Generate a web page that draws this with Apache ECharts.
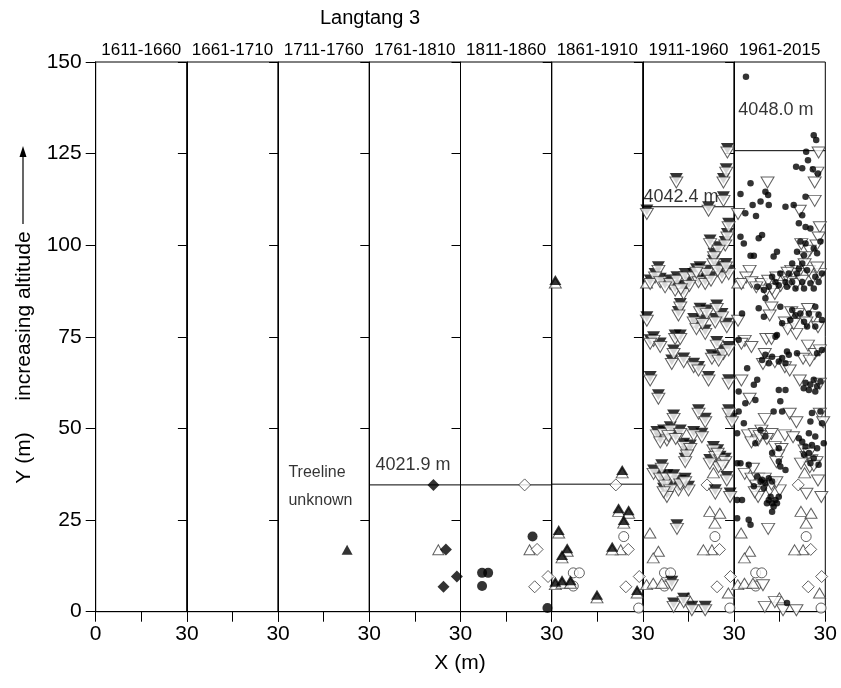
<!DOCTYPE html>
<html>
<head>
<meta charset="utf-8">
<title>Langtang 3</title>
<script src="https://cdn.jsdelivr.net/npm/echarts@6/dist/echarts.min.js"></script>
<style>
  html, body { margin: 0; padding: 0; background: #fff; }
  #chart { width: 841px; height: 688px; }
</style>
</head>
<body>
<div id="chart"></div>
<script>
// periods shown as panels, left to right
var periods = ['1611-1660', '1661-1710', '1711-1760', '1761-1810', '1811-1860', '1861-1910', '1911-1960', '1961-2015'];
var yTicks = [0, 25, 50, 75, 100, 125, 150];

// treeline position (m) per panel, null = none drawn
var treelineY = [null, null, null, 34.6, 34.6, 34.8, 110.5, 125.8];
var treelineText = ['', '', 'Treeline\nunknown', '4021.9 m', '', '', '4042.4 m', '4048.0 m'];

// tree positions [x, y] in metres, grouped by establishment period
var cohort1711 = [[22.7, 16.9]];
var cohort1761 = [[21.1, 34.6], [25.2, 17.0], [24.4, 6.8], [28.8, 9.6]];
var cohort1811 = [[7.1, 10.6], [9.1, 10.6], [7.1, 7.0], [23.7, 20.5], [28.6, 1.0]];
var cohort1861 = [
  [1.2, 90.5], [23.2, 38.7], [22.0, 28.2], [25.3, 27.7], [23.7, 25.0], [2.3, 22.3], [5.1, 17.3],
  [3.4, 15.5], [19.9, 17.7], [1.2, 8.2], [3.4, 8.6], [6.2, 8.6], [14.9, 4.6], [28.1, 5.9]
];
var cohort1911 = [
  [27.8, 126.4], [27.4, 120.9], [26.5, 118.2], [11.0, 118.2], [26.5, 113.2], [21.6, 110.5], [1.3, 109.6],
  [28.2, 106.0], [27.8, 103.2], [27.1, 101.0], [22.1, 101.4], [24.9, 99.6], [23.4, 97.8], [5.1, 94.1],
  [4.0, 92.3], [2.4, 90.5], [5.7, 91.0], [9.0, 90.5], [11.2, 91.4], [13.9, 92.3], [16.7, 92.3],
  [18.8, 94.1], [21.0, 93.2], [23.2, 95.9], [26.0, 92.3], [28.2, 93.2], [10.6, 88.7], [13.4, 87.8],
  [18.3, 91.0], [20.5, 90.5], [12.3, 84.1], [11.7, 81.9], [18.8, 82.8], [21.0, 82.3], [24.3, 83.7],
  [26.0, 81.4], [1.3, 80.5], [16.7, 80.0], [27.6, 78.7], [23.8, 80.0], [3.5, 75.0], [10.6, 75.5],
  [20.5, 76.9], [2.4, 74.2], [5.7, 73.3], [12.3, 75.5], [10.1, 71.4], [9.5, 68.7], [13.4, 69.2],
  [16.7, 67.8], [18.3, 66.9], [24.3, 73.7], [26.5, 71.4], [22.7, 70.1], [28.2, 72.4], [24.9, 69.6],
  [2.4, 64.2], [21.6, 64.2], [28.2, 63.3], [5.1, 59.2], [10.1, 53.7], [18.3, 55.1], [20.5, 52.8],
  [28.2, 55.1], [29.3, 52.8], [4.6, 49.2], [6.8, 49.6], [9.0, 50.5], [12.3, 49.6], [7.9, 47.8],
  [16.7, 49.2], [19.4, 48.7], [13.4, 46.0], [15.6, 45.5], [14.5, 43.7], [13.9, 41.9], [23.2, 45.1],
  [23.8, 43.3], [25.4, 42.4], [27.1, 41.9], [24.9, 40.5], [3.5, 38.7], [6.2, 40.1], [5.7, 37.4],
  [7.9, 37.4], [10.1, 37.4], [7.3, 35.5], [11.7, 34.2], [15.0, 34.2], [9.0, 34.2], [7.9, 32.4],
  [27.6, 36.9], [28.7, 32.4], [23.8, 33.3], [11.2, 23.7], [9.5, 8.3], [10.1, 2.4], [13.4, 3.7],
  [16.1, 1.5], [20.5, 1.5], [7.3, 89.6], [15.3, 90.0], [17.6, 93.6], [22.4, 91.4], [24.6, 94.1],
  [27.3, 95.0], [12.5, 89.1], [17.6, 78.2], [19.6, 79.6], [5.7, 47.3], [8.4, 49.0], [10.8, 48.2],
  [24.6, 44.2], [26.2, 40.9], [22.0, 41.5], [12.3, 35.8], [13.9, 36.4], [6.8, 33.7]
];
var cohort1961 = [
  [3.9, 146.0], [26.2, 130.0], [27.0, 128.7], [23.7, 125.5], [20.4, 121.4], [22.4, 121.0], [24.3, 123.2],
  [25.9, 120.7], [27.6, 119.6], [5.4, 116.9], [10.3, 114.6], [2.1, 114.0], [11.2, 113.7], [8.7, 111.9],
  [6.1, 111.0], [11.4, 111.0], [16.9, 110.5], [19.6, 111.0], [3.7, 108.7], [7.2, 108.0], [23.5, 113.2],
  [22.4, 108.2], [21.3, 106.0], [23.5, 105.0], [25.1, 104.6], [2.1, 102.3], [3.2, 100.5], [9.2, 102.8],
  [8.1, 101.9], [21.8, 101.0], [23.5, 100.5], [14.1, 98.2], [13.0, 96.9], [5.4, 97.1], [6.5, 97.1],
  [20.7, 98.2], [26.2, 99.1], [28.4, 101.0], [19.1, 95.0], [22.4, 95.0], [18.0, 92.3], [20.7, 92.3],
  [24.0, 93.2], [26.7, 91.4], [12.5, 91.4], [15.2, 92.3], [7.6, 88.7], [9.8, 87.8], [11.4, 88.7],
  [13.6, 90.0], [16.9, 90.0], [19.1, 90.0], [22.4, 90.0], [25.1, 89.6], [27.8, 90.0], [8.1, 82.8],
  [15.2, 83.2], [19.1, 82.3], [21.8, 81.4], [24.6, 81.4], [26.7, 83.2], [2.6, 81.4], [15.8, 78.7],
  [18.5, 79.6], [13.6, 75.0], [26.7, 77.8], [24.0, 77.8], [1.5, 74.2], [14.1, 75.5], [18.0, 70.1],
  [20.7, 70.5], [9.2, 68.7], [11.4, 67.8], [14.7, 68.3], [16.9, 67.8], [27.3, 70.5], [28.9, 71.4],
  [4.3, 66.4], [7.6, 63.3], [6.5, 61.9], [1.5, 60.1], [14.7, 60.5], [16.9, 60.5], [22.9, 61.0],
  [24.6, 60.5], [26.7, 60.1], [15.2, 57.4], [3.7, 56.9], [7.0, 57.8], [13.0, 54.6], [15.8, 54.6],
  [25.6, 54.2], [28.4, 54.6], [1.5, 54.6], [3.2, 51.4], [25.1, 51.9], [28.9, 51.4], [8.7, 49.6],
  [10.3, 47.8], [7.0, 46.0], [24.6, 48.7], [26.7, 47.8], [29.5, 46.0], [23.5, 45.1], [14.7, 44.6],
  [12.5, 43.3], [24.6, 43.3], [26.2, 41.9], [2.1, 40.5], [4.8, 40.1], [14.7, 41.0], [15.2, 39.6],
  [16.9, 38.7], [7.6, 36.9], [8.7, 35.5], [10.3, 35.1], [6.5, 34.2], [11.4, 30.5], [13.6, 30.5],
  [12.5, 29.6], [10.8, 29.6], [14.7, 31.4], [1.0, 30.5], [2.6, 30.5], [12.5, 27.3], [1.0, 25.5],
  [4.8, 25.1], [5.4, 23.7], [17.4, 2.4], [1.0, 48.7], [1.0, 40.5],
  [23.5, 62.5], [25.1, 62.0], [27.3, 61.5], [28.4, 62.8], [26.2, 63.3], [9.2, 36.0], [11.4, 36.4],
  [12.5, 35.5], [9.8, 33.7], [12.0, 31.4], [13.0, 28.7], [14.1, 29.6], [12.5, 69.6], [15.8, 69.2],
  [10.3, 70.1], [17.4, 71.0], [21.3, 47.3], [22.4, 46.4], [25.6, 45.5], [27.3, 44.6], [23.0, 42.8],
  [25.1, 40.5], [27.8, 40.1], [17.4, 88.7], [20.2, 88.2], [23.0, 88.2], [26.2, 88.2], [14.7, 89.1],
  [28.9, 92.3], [21.3, 93.6], [23.0, 97.3], [27.3, 97.8], [10.3, 85.5], [9.8, 80.5], [20.2, 80.9],
  [23.0, 79.1], [27.8, 81.0], [28.9, 79.6]
];

var FONT = '"Liberation Sans", Arial, Helvetica, sans-serif';

// each cohort is filled in its own panel and open in every later panel
var cohorts = [
  { data: cohort1711, panel: 2, symbol: 'triangle', rotate: 0, size: [11, 10], openSize: [11, 10] },
  { data: cohort1761, panel: 3, symbol: 'diamond', rotate: 0, size: [12, 12], openSize: [12, 12] },
  { data: cohort1811, panel: 4, symbol: 'circle', rotate: 0, size: 10, openSize: 10 },
  { data: cohort1861, panel: 5, symbol: 'triangle', rotate: 0, size: [12, 10], openSize: [12, 10], dup: 'under', off: 3 },
  { data: cohort1911, panel: 6, symbol: 'triangle', rotate: 180, size: [13, 11], openSize: [13, 11], dup: 'over', off: 4 },
  { data: cohort1961, panel: 7, symbol: 'circle', rotate: 0, size: 6.5, openSize: 6.5 }
];

var plotLeft = 95.7, plotTop = 62, plotW = 729.6, plotH = 549.7;
var panelW = plotW / periods.length;

var grids = [], xAxes = [], yAxes = [], series = [], graphics = [];

function openSeries(c, p) {
  return {
    type: 'scatter', xAxisIndex: p, yAxisIndex: p, data: c.data,
    symbol: c.symbol, symbolRotate: c.rotate, symbolSize: c.openSize,
    symbolOffset: c.off ? [0, c.off] : [0, 0],
    itemStyle: { color: '#fff', borderColor: '#3a3a3a', borderWidth: 1 },
    silent: true, animation: false
  };
}
function filledSeries(c, p) {
  return {
    type: 'scatter', xAxisIndex: p, yAxisIndex: p, data: c.data,
    symbol: c.symbol, symbolRotate: c.rotate, symbolSize: c.size,
    itemStyle: { color: '#000', borderColor: '#000', borderWidth: 0 },
    silent: true, animation: false
  };
}

periods.forEach(function (name, p) {
  var left = plotLeft + p * panelW;
  grids.push({
    left: left, top: plotTop, width: panelW, height: plotH,
    show: true, borderColor: '#000', borderWidth: 1, backgroundColor: 'transparent'
  });
  xAxes.push({
    type: 'value', gridIndex: p, min: 0, max: 30, interval: 15,
    axisLine: { show: true, lineStyle: { color: '#000', width: 1 } },
    axisTick: { show: true, length: 10, lineStyle: { color: '#000', width: 1 } },
    axisLabel: {
      show: true, margin: 12, fontSize: 21, color: '#000', fontFamily: FONT,
      formatter: function (v) { return (v === 30 || (p === 0 && v === 0)) ? String(v) : ''; }
    },
    splitLine: { show: false }
  });
  // right-hand axis of each panel: inward ticks only
  yAxes.push({
    type: 'value', gridIndex: p, position: 'right', min: 0, max: 150, interval: 25,
    axisLine: { show: true, lineStyle: { color: '#000', width: 1 } },
    axisTick: { show: true, inside: true, length: 9, lineStyle: { color: '#000', width: 1 } },
    axisLabel: { show: false },
    splitLine: { show: false }
  });

  // trees: older cohorts open, current cohort filled
  cohorts.forEach(function (c) {
    if (c.panel < p) {
      series.push(openSeries(c, p));
    } else if (c.panel === p) {
      if (c.dup === 'under') {
        series.push(openSeries(c, p));
        series.push(filledSeries(c, p));
      } else if (c.dup === 'over') {
        series.push(filledSeries(c, p));
        series.push(openSeries(c, p));
      } else {
        series.push(filledSeries(c, p));
      }
    }
  });

  // treeline line
  if (treelineY[p] !== null) {
    series.push({
      type: 'line', xAxisIndex: p, yAxisIndex: p,
      data: [[0, treelineY[p]], [30, treelineY[p]]],
      symbol: 'none', lineStyle: { color: '#000', width: 1 },
      silent: true, animation: false, z: 1
    });
  }

  // period header
  graphics.push({
    type: 'text', x: left + panelW / 2, y: 50,
    style: { text: name, font: '17px ' + FONT, fill: '#000', textAlign: 'center', textVerticalAlign: 'middle' }
  });
});

// left axis with the labels
yAxes.push({
  type: 'value', gridIndex: 0, position: 'left', min: 0, max: 150, interval: 25,
  axisLine: { show: true, lineStyle: { color: '#000', width: 1 } },
  axisTick: { show: true, length: 10, lineStyle: { color: '#000', width: 1 } },
  axisLabel: { show: true, margin: 14, fontSize: 21, color: '#000', fontFamily: FONT },
  splitLine: { show: false }
});

// panel annotations, anchored in data units
var textAnchor = { 2: [3.4, 34.2], 3: [2.0, 40.0], 6: [0.2, 113.2], 7: [1.4, 136.9] };
Object.keys(textAnchor).forEach(function (k) {
  var p = +k;
  var small = p === 2;
  series.push({
    type: 'scatter', xAxisIndex: p, yAxisIndex: p,
    data: [textAnchor[k]], symbolSize: 0, silent: true, animation: false, z: 5,
    label: {
      show: true, position: 'right', distance: 0,
      formatter: treelineText[p],
      fontSize: small ? 16 : 18, lineHeight: small ? 28 : 20,
      color: '#000', fontFamily: FONT
    }
  });
});

// titles
graphics.push({
  type: 'text', x: 370, y: 18,
  style: { text: 'Langtang 3', font: '20px ' + FONT, fill: '#000', textAlign: 'center', textVerticalAlign: 'middle' }
});
graphics.push({
  type: 'text', x: 460, y: 663,
  style: { text: 'X (m)', font: '21px ' + FONT, fill: '#000', textAlign: 'center', textVerticalAlign: 'middle' }
});
graphics.push({
  type: 'text', x: 24, y: 458, rotation: Math.PI / 2,
  style: { text: 'Y (m)', font: '21px ' + FONT, fill: '#000', textAlign: 'center', textVerticalAlign: 'middle' }
});
graphics.push({
  type: 'text', x: 24, y: 316, rotation: Math.PI / 2,
  style: { text: 'increasing altitude', font: '21px ' + FONT, fill: '#000', textAlign: 'center', textVerticalAlign: 'middle' }
});
graphics.push({
  type: 'line', shape: { x1: 23, y1: 224, x2: 23, y2: 154 },
  style: { stroke: '#000', lineWidth: 1.2 }
});
graphics.push({
  type: 'polygon', shape: { points: [[23, 146], [19.5, 157], [26.5, 157]] },
  style: { fill: '#000' }
});

var chart = echarts.init(document.getElementById('chart'), null, { renderer: 'canvas' });
chart.setOption({
  backgroundColor: '#fff',
  animation: false,
  grid: grids,
  xAxis: xAxes,
  yAxis: yAxes,
  series: series,
  graphic: graphics
});
</script>
</body>
</html>
